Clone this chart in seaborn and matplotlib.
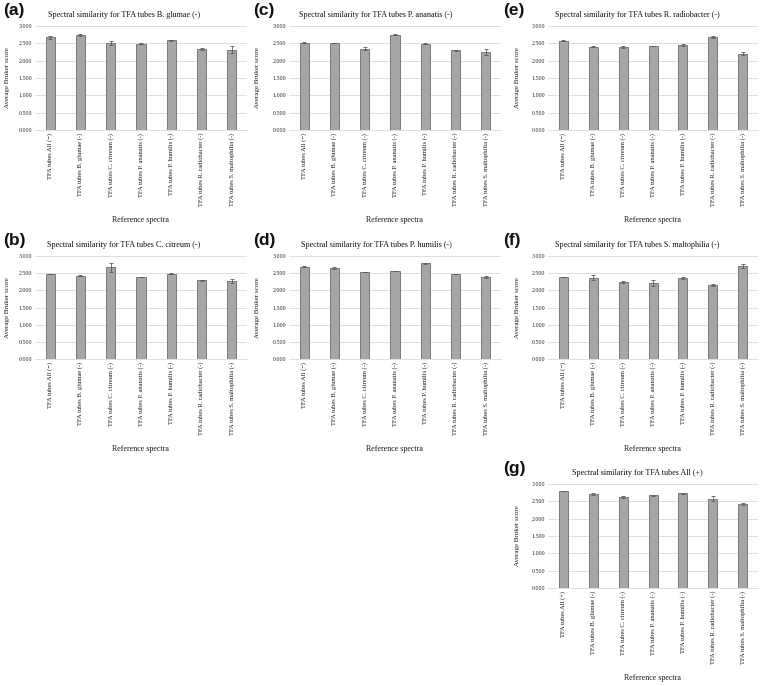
import numpy as np
import pandas as pd
import matplotlib
matplotlib.use("Agg")
import matplotlib.pyplot as plt
import seaborn as sns

# ---------------- data ----------------
cats_neg = ["TFA tubes All (\u2212)", "TFA tubes B. glumae (-)", "TFA tubes C. citreum (-)",
            "TFA tubes P. ananatis (-)", "TFA tubes P. humilis (-)",
            "TFA tubes R. radiobacter (-)", "TFA tubes S. maltophilia (-)"]
cats_pos = ["TFA tubes All (+)", "TFA tubes B. glumae (-)", "TFA tubes C. citreum (-)",
            "TFA tubes P. ananatis (-)", "TFA tubes P. humilis (-)",
            "TFA tubes R. radiobacter (-)", "TFA tubes S. maltophilia (-)"]

title_a = "Spectral similarity for TFA tubes B. glumae (-)"
mean_a = [2.67, 2.73, 2.51, 2.49, 2.59, 2.34, 2.32]
err_a = [0.05, 0.03, 0.06, 0.01, 0.01, 0.03, 0.09]

title_b = "Spectral similarity for TFA tubes C. citreum (-)"
mean_b = [2.48, 2.43, 2.67, 2.39, 2.49, 2.29, 2.27]
err_b = [0.01, 0.01, 0.13, 0.00, 0.01, 0.02, 0.05]

title_c = "Spectral similarity for TFA tubes P. ananatis (-)"
mean_c = [2.52, 2.51, 2.35, 2.75, 2.49, 2.30, 2.25]
err_c = [0.01, 0.01, 0.05, 0.02, 0.01, 0.01, 0.08]

title_d = "Spectral similarity for TFA tubes P. humilis (-)"
mean_d = [2.69, 2.64, 2.53, 2.56, 2.79, 2.48, 2.40]
err_d = [0.02, 0.03, 0.01, 0.01, 0.01, 0.01, 0.03]

title_e = "Spectral similarity for TFA tubes R. radiobacter (-)"
mean_e = [2.58, 2.40, 2.39, 2.42, 2.45, 2.69, 2.20]
err_e = [0.01, 0.01, 0.02, 0.01, 0.02, 0.03, 0.05]

title_f = "Spectral similarity for TFA tubes S. maltophilia (-)"
mean_f = [2.39, 2.37, 2.24, 2.22, 2.36, 2.16, 2.71]
err_f = [0.01, 0.07, 0.02, 0.08, 0.02, 0.03, 0.07]

title_g = "Spectral similarity for TFA tubes All (+)"
mean_g = [2.80, 2.71, 2.62, 2.67, 2.73, 2.58, 2.42]
err_g = [0.01, 0.02, 0.02, 0.01, 0.02, 0.07, 0.03]

y_ticks = [0.0, 0.5, 1.0, 1.5, 2.0, 2.5, 3.0]
y_label = "Average Bruker score"
x_label = "Reference spectra"

# ---------------- layout ----------------
W, H = 761, 686
sns.set_theme(style="white")
plt.rcParams['font.family'] = ['Liberation Serif', 'DejaVu Serif']

fig = plt.figure(figsize=(W / 100, H / 100), dpi=100)

cols = [(35, 247), (289, 501), (548, 758)]
rows = [(26, 130), (256, 359), (484, 588)]
title_x = [124, 376, 637]
title_dy = 11  # pixels above axes top
letter_x = [3, 253, 503]

panels = [
    ("(a)", title_a, cats_neg, mean_a, err_a, 0, 0),
    ("(b)", title_b, cats_neg, mean_b, err_b, 0, 1),
    ("(c)", title_c, cats_neg, mean_c, err_c, 1, 0),
    ("(d)", title_d, cats_neg, mean_d, err_d, 1, 1),
    ("(e)", title_e, cats_neg, mean_e, err_e, 2, 0),
    ("(f)", title_f, cats_neg, mean_f, err_f, 2, 1),
    ("(g)", title_g, cats_pos, mean_g, err_g, 2, 2),
]

ylab_x = [10, 260, 520]

for letter, title, cats, means, errs, ci, ri in panels:
    x0, x1 = cols[ci]
    yt, yb = rows[ri]
    ax = fig.add_axes([x0 / W, 1 - yb / H, (x1 - x0) / W, (yb - yt) / H])
    df = pd.DataFrame({"cat": cats, "val": means})
    sns.barplot(data=df, x="cat", y="val", ax=ax, color="#a6a6a6", saturation=1,
                edgecolor="#7a7a7a", linewidth=0.7, width=0.3, errorbar=None)
    ax.errorbar(np.arange(len(cats)), means, yerr=errs, fmt="none",
                ecolor="#595959", elinewidth=0.6, capsize=1.6, capthick=0.6, zorder=5)
    ax.set_ylim(0, 3)
    ax.set_xlim(-0.5, len(cats) - 0.5)
    ax.set_yticks(y_ticks)
    ax.set_yticklabels([f"{v:.3f}" for v in y_ticks], fontsize=4.3, color="#262626")
    ax.set_xticks(np.arange(len(cats)))
    ax.set_xticklabels(cats, rotation=90, fontsize=4.7, color="#1a1a1a")
    ax.tick_params(axis="both", length=0, pad=2)
    ax.yaxis.grid(True, color="#d9d9d9", linewidth=0.6)
    ax.set_axisbelow(True)
    for s in ["left", "top", "right"]:
        ax.spines[s].set_visible(False)
    ax.spines["bottom"].set_color("#d9d9d9")
    ax.spines["bottom"].set_linewidth(0.6)
    ax.set_ylabel(y_label, fontsize=5.0, color="#1a1a1a")
    ax.yaxis.set_label_coords((ylab_x[ci] - x0) / (x1 - x0), 0.5)
    ax.set_xlabel(x_label, fontsize=5.8, color="#1a1a1a")
    ax.xaxis.set_label_coords(0.5, -0.87)
    ax.xaxis.label.set_va("center")

    fig.text(title_x[ci] / W, 1 - (yt - title_dy) / H, title, fontsize=5.9,
             ha="center", va="center", color="#111111")
    fig.text(letter_x[ci] / W, 1 - (yt - 15) / H, letter, fontsize=12.5,
             family=["Liberation Sans", "DejaVu Sans"], fontweight="bold",
             ha="left", va="center", color="#111111")

fig.savefig("out.png", dpi=100)
